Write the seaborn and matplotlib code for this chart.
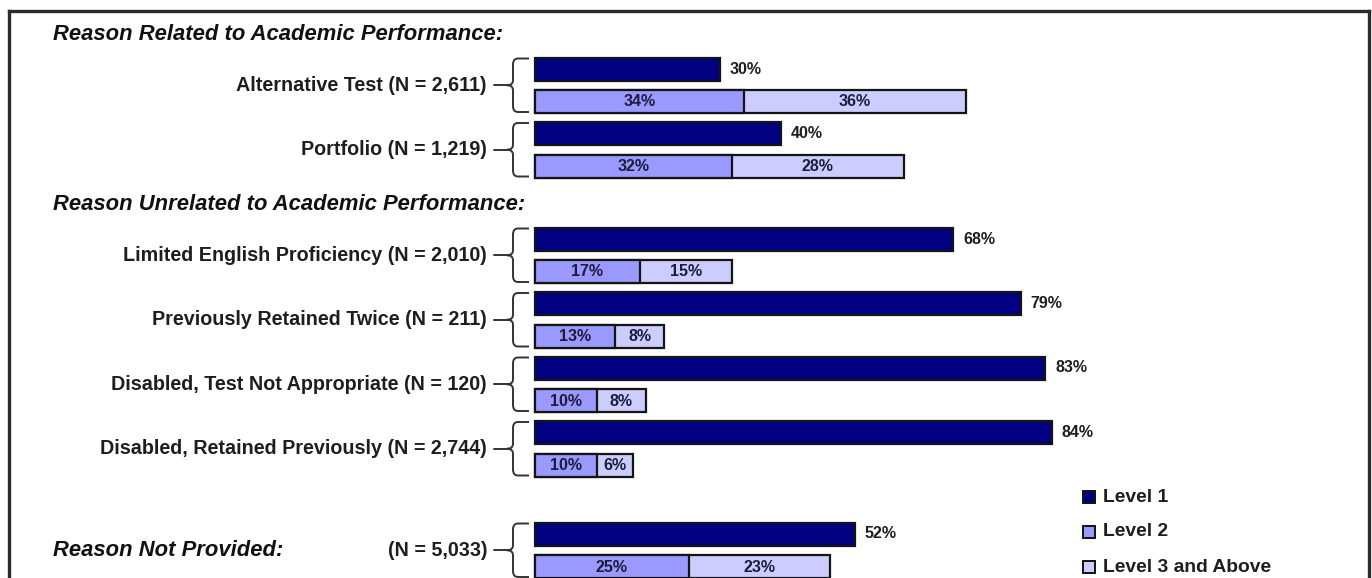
import numpy as np
import pandas as pd
import matplotlib
matplotlib.use("Agg")
import matplotlib.pyplot as plt
from matplotlib.path import Path
from matplotlib.patches import PathPatch, Rectangle
import seaborn as sns

# ---- data -------------------------------------------------------------
sections = ["Reason Related to Academic Performance:",
            "Reason Unrelated to Academic Performance:",
            "Reason Not Provided:"]
reasons = ["Alternative Test", "Portfolio", "Limited English Proficiency",
           "Previously Retained Twice", "Disabled, Test Not Appropriate",
           "Disabled, Retained Previously", ""]
section_of = [0, 0, 1, 1, 1, 1, 2]
n_students = ["2,611", "1,219", "2,010", "211", "120", "2,744", "5,033"]
level1 = [30, 40, 68, 79, 83, 84, 52]
level2 = [34, 32, 17, 13, 10, 10, 25]
level3 = [36, 28, 15, 8, 8, 6, 23]
legend_labels = ["Level 1", "Level 2", "Level 3 and Above"]
colors = ["#000080", "#9999FF", "#CCCCFF"]

# ---- layout (figure pixels) -------------------------------------------
W, H = 1372, 578
X0, PPX = 535, 6.15          # bar origin and pixels per percent
TOP, STEP, PAIR = 69, 64.5, 32.5
SECTION_OFFSET = [0, 41, 78]
BAR_H = 23

sns.set_theme(style="white")
plt.rcParams["font.family"] = ["Liberation Sans", "DejaVu Sans"]


def px(x):
    """figure pixel column -> percent units of the bar axis"""
    return (x - X0) / PPX


idx = np.arange(len(level1))
y_top = TOP + STEP * idx + np.array([SECTION_OFFSET[s] for s in section_of])
y_bot = y_top + PAIR

df_top = pd.DataFrame({"pos": y_top, "value": level1})
df_bot = pd.DataFrame({"pos": y_bot,
                       "l2": level2,
                       "total": np.array(level2) + np.array(level3)})

fig = plt.figure(figsize=(W / 100, H / 100), dpi=100)
ax = fig.add_axes([0, 0, 1, 1])
width = BAR_H / np.min(np.diff(np.sort(y_top)))

bar_kw = dict(orient="h", native_scale=True, width=width, saturation=1,
              errorbar=None, edgecolor="#141414", linewidth=1.6, ax=ax)
sns.barplot(data=df_top, x="value", y="pos", color=colors[0], **bar_kw)
sns.barplot(data=df_bot, x="total", y="pos", color=colors[2], **bar_kw)
sns.barplot(data=df_bot, x="l2", y="pos", color=colors[1], **bar_kw)

ax.set_xlim(px(0), px(W))
ax.set_ylim(H, 0)
ax.set_axis_off()

txt_col = "#1e1e1e"
# value labels
for yt, yb, v1, v2, v3 in zip(y_top, y_bot, level1, level2, level3):
    ax.text(v1 + 10 / PPX, yt, f"{v1}%", ha="left", va="center",
            fontsize=11.5, fontweight="bold", color=txt_col)
    ax.text(v2 / 2, yb + 0.5, f"{v2}%", ha="center", va="center",
            fontsize=11.5, fontweight="bold", color="#1c1c3c")
    ax.text(v2 + v3 / 2, yb + 0.5, f"{v3}%", ha="center", va="center",
            fontsize=11.5, fontweight="bold", color="#1c1c3c")

# row labels with braces
for i in idx:
    t = y_top[i] - BAR_H / 2 + 1
    b = y_bot[i] + BAR_H / 2 - 1
    m = (t + b) / 2
    label = f"{reasons[i]} (N = {n_students[i]})" if reasons[i] else f"(N = {n_students[i]})"
    ax.text(px(487), m, label, ha="right", va="center",
            fontsize=14.2, fontweight="bold", color=txt_col)
    verts = [(529, t), (518, t), (513, t), (513, t + 6),
             (513, m - 5), (513, m), (507, m),
             (513, m), (513, m + 5),
             (513, b - 6), (513, b), (518, b), (529, b)]
    codes = [Path.MOVETO, Path.LINETO, Path.CURVE3, Path.CURVE3,
             Path.LINETO, Path.CURVE3, Path.CURVE3,
             Path.CURVE3, Path.CURVE3,
             Path.LINETO, Path.CURVE3, Path.CURVE3, Path.LINETO]
    verts = [(px(x), y) for x, y in verts]
    ax.add_patch(PathPatch(Path(verts, codes), fill=False,
                           edgecolor="#333333", linewidth=1.4))
    ax.plot([px(494), px(507)], [m, m], color="#333333", linewidth=1.4)

# section headings
for s, name in enumerate(sections):
    first = section_of.index(s)
    if s < 2:
        yh = y_top[first] - 35
    else:
        yh = (y_top[first] + y_bot[first]) / 2
    ax.text(px(53), yh, name, ha="left", va="center", fontsize=15.8,
            fontweight="bold", fontstyle="italic", color="#111111")

# legend
for k, (lab, col) in enumerate(zip(legend_labels, colors)):
    yl = 497 + 35 * k
    ax.add_patch(Rectangle((px(1083), yl - 6), 12 / PPX, 12, facecolor=col,
                           edgecolor="#111111", linewidth=1.4))
    ax.text(px(1103), yl, lab, ha="left", va="center", fontsize=13.9,
            fontweight="bold", color=txt_col)

# outer frame
frame_kw = dict(color="#2b2b2b", linewidth=2.4, solid_capstyle="projecting")
ax.plot([px(9), px(9)], [H + 5, 11], **frame_kw)
ax.plot([px(9), px(1369)], [11, 11], **frame_kw)
ax.plot([px(1369), px(1369)], [11, H + 5], **frame_kw)

fig.savefig("out.png", dpi=100, facecolor="white")
